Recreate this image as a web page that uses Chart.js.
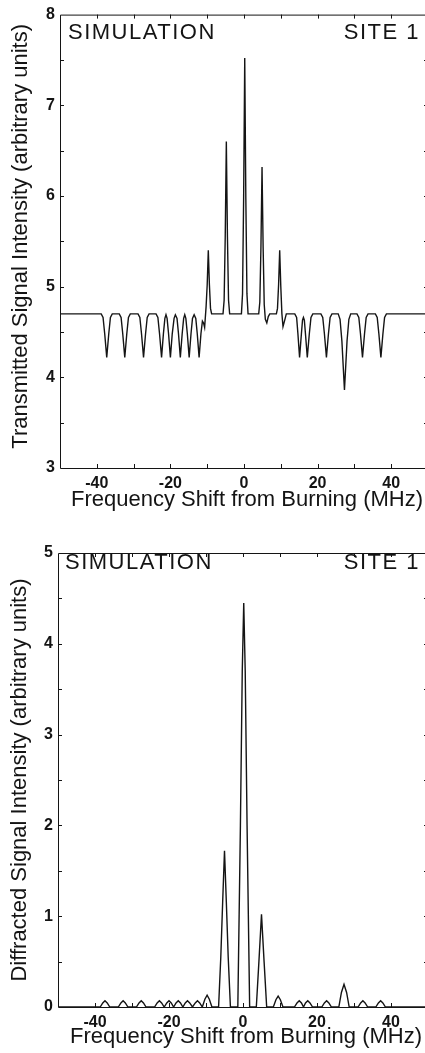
<!DOCTYPE html>
<html>
<head>
<meta charset="utf-8">
<title>Simulation - Site 1</title>
<script src="https://cdn.jsdelivr.net/npm/chart.js@4.4.0/dist/chart.umd.min.js"></script>
<style>
  html, body { margin: 0; padding: 0; background: #fff; overflow: hidden; }
  body { width: 425px; height: 1053px; position: relative; }
  canvas { position: absolute; left: 0; }
  #transChart { top: 0; }
  #diffChart { top: 530px; }
</style>
</head>
<body>
<canvas id="transChart" width="440" height="525"></canvas>
<canvas id="diffChart" width="440" height="523"></canvas>
<script>
// axis ticks
const xTickValues = [-40, -20, 0, 20, 40];
const xMarks = [-40, -30, -20, -10, 0, 10, 20, 30, 40];
const transYTicks = [3, 4, 5, 6, 7, 8];
const transYMarks = [3.5, 4, 4.5, 5, 5.5, 6, 6.5, 7, 7.5];
const diffYTicks = [0, 1, 2, 3, 4, 5];
const diffYMarks = [0.5, 1, 1.5, 2, 2.5, 3, 3.5, 4, 4.5];

// transmitted signal (MHz, arb. units)
const transFreq = [
  -50, -38.8, -38.3, -37.85, -37.3, -36.75, -36.3, -35.8,
  -33.9, -33.4, -32.95, -32.4, -31.85, -31.4, -30.9,
  -28.8, -28.3, -27.85, -27.3, -26.75, -26.3, -25.8,
  -23.9, -23.4, -22.95, -22.4, -21.9, -21.5, -21.2, -20.9, -20.5, -20.0,
  -19.5, -19.0, -18.65, -18.2, -17.8, -17.3, -16.8, -16.4, -16.1, -15.8,
  -15.4, -14.9, -14.4, -14.0, -13.55, -13.1, -12.7, -12.2, -11.7, -11.3,
  -11.0, -10.7, -10.3, -10.0, -9.7, -9.4, -9.1, -8.8,
  -5.7, -5.4, -5.1, -4.8, -4.5, -4.2, -3.9,
  -0.7, -0.4, -0.1, 0.2, 0.5, 0.8, 1.1,
  4.0, 4.3, 4.6, 4.9, 5.2, 5.5, 5.8, 6.2, 6.6, 7.0,
  8.8, 9.1, 9.4, 9.7, 10.0, 10.3, 10.6, 11.0, 11.5,
  13.8, 14.3, 14.65, 15.1, 15.6, 15.9, 16.15, 16.4, 16.7, 17.2, 17.75, 18.2, 18.7,
  20.9, 21.4, 21.85, 22.4, 22.95, 23.4, 23.9,
  25.6, 26.1, 26.6, 27.3, 28.0, 28.5, 29.0,
  30.7, 31.2, 31.65, 32.2, 32.75, 33.2, 33.7,
  35.7, 36.2, 36.65, 37.2, 37.75, 38.2, 38.7, 50
];
const transSignal = [
  4.70, 4.70, 4.66, 4.48, 4.22, 4.48, 4.66, 4.70,
  4.70, 4.66, 4.48, 4.22, 4.48, 4.66, 4.70,
  4.70, 4.66, 4.48, 4.22, 4.48, 4.66, 4.70,
  4.70, 4.66, 4.48, 4.22, 4.48, 4.65, 4.69, 4.65, 4.48, 4.22,
  4.48, 4.65, 4.69, 4.65, 4.48, 4.22, 4.48, 4.65, 4.69, 4.65,
  4.48, 4.22, 4.48, 4.65, 4.69, 4.65, 4.48, 4.22, 4.48, 4.62,
  4.60, 4.55, 4.78, 5.02, 5.40, 5.02, 4.76, 4.70,
  4.70, 4.85, 5.55, 6.60, 5.55, 4.85, 4.70,
  4.70, 4.92, 5.97, 7.52, 5.97, 4.92, 4.70,
  4.70, 4.83, 5.43, 6.32, 5.43, 4.80, 4.64, 4.60, 4.67, 4.70,
  4.70, 4.76, 5.02, 5.40, 5.00, 4.70, 4.56, 4.62, 4.70,
  4.70, 4.66, 4.48, 4.22, 4.48, 4.63, 4.66, 4.63, 4.48, 4.22, 4.48, 4.66, 4.70,
  4.70, 4.66, 4.48, 4.22, 4.48, 4.66, 4.70,
  4.70, 4.64, 4.40, 3.86, 4.40, 4.64, 4.70,
  4.70, 4.66, 4.48, 4.22, 4.48, 4.66, 4.70,
  4.70, 4.66, 4.48, 4.22, 4.48, 4.66, 4.70, 4.70
];

// diffracted signal
const diffFreq = [
  -50, -38.6, -37.9, -37.3, -36.7, -36.0,
  -33.7, -33.0, -32.4, -31.8, -31.1,
  -28.8, -28.1, -27.5, -26.9, -26.2,
  -23.9, -23.2, -22.6, -22.0, -21.3, -20.6, -20.0, -19.4, -18.75,
  -18.1, -17.5, -16.9, -16.25, -15.6, -15.0, -14.4, -13.65,
  -12.9, -12.3, -11.7, -11.0, -10.3, -9.7, -9.1, -8.4,
  -6.6, -6.0, -5.5, -5.0, -4.5, -4.0, -3.4,
  -1.4, -0.7, -0.2, 0.2, 0.6, 1.1, 1.8,
  3.6, 4.3, 5.0, 5.7, 6.4,
  8.2, 8.9, 9.5, 10.1, 10.8,
  13.9, 14.6, 15.2, 15.8, 16.35, 16.9, 17.5, 18.1, 18.8,
  21.3, 22.0, 22.6, 23.2, 23.9,
  25.9, 26.6, 27.3, 28.0, 28.7,
  31.1, 31.8, 32.4, 33.0, 33.7,
  35.9, 36.6, 37.2, 37.8, 38.5, 50
];
const diffSignal = [
  0, 0, 0.045, 0.07, 0.045, 0,
  0, 0.045, 0.07, 0.045, 0,
  0, 0.045, 0.07, 0.045, 0,
  0, 0.045, 0.07, 0.045, 0, 0.045, 0.07, 0.045, 0,
  0.045, 0.07, 0.045, 0, 0.045, 0.07, 0.045, 0,
  0.045, 0.07, 0.045, 0, 0.085, 0.13, 0.085, 0,
  0, 0.55, 1.15, 1.72, 1.15, 0.55, 0,
  0, 2.0, 3.7, 4.45, 3.7, 2.0, 0,
  0, 0.5, 1.02, 0.5, 0,
  0, 0.08, 0.12, 0.08, 0,
  0, 0.045, 0.07, 0.045, 0, 0.045, 0.07, 0.045, 0,
  0, 0.045, 0.07, 0.045, 0,
  0, 0.16, 0.25, 0.16, 0,
  0, 0.045, 0.07, 0.045, 0,
  0, 0.045, 0.07, 0.045, 0, 0
];

const FONT = '"Liberation Sans", Arial, Helvetica, sans-serif';
const INK = '#141414';

// frame with inward ticks, axis titles and the panel captions
const framePlugin = {
  id: 'framePlugin',
  afterDraw(chart, args, o) {
    const ctx = chart.ctx;
    const a = chart.chartArea;
    const xs = chart.scales.x;
    const ys = chart.scales.y;
    ctx.save();
    ctx.strokeStyle = INK;
    ctx.lineWidth = 1;
    ctx.beginPath();
    ctx.rect(a.left + 0.5, a.top + 0.5, a.right - a.left, a.bottom - a.top);
    o.xMarks.forEach(v => {
      const px = Math.round(xs.getPixelForValue(v)) + 0.5;
      ctx.moveTo(px, a.bottom); ctx.lineTo(px, a.bottom - 4);
      ctx.moveTo(px, a.top); ctx.lineTo(px, a.top + 4);
    });
    o.yMarks.forEach(v => {
      const py = Math.round(ys.getPixelForValue(v)) + 0.5;
      ctx.moveTo(a.left, py); ctx.lineTo(a.left + 4, py);
      ctx.moveTo(a.right, py); ctx.lineTo(a.right - 4, py);
    });
    ctx.stroke();

    ctx.fillStyle = INK;
    ctx.font = '22px ' + FONT;
    ctx.textAlign = 'center';
    ctx.textBaseline = 'alphabetic';
    ctx.fillText(o.xTitle, (a.left + a.right) / 2 + 3, a.bottom + o.xTitleGap);

    ctx.save();
    ctx.translate(o.yTitleX, (a.top + a.bottom) / 2 + o.yTitleShift);
    ctx.rotate(-Math.PI / 2);
    ctx.textBaseline = 'middle';
    ctx.fillText(o.yTitle, 0, 0);
    ctx.restore();

    ctx.font = '22px ' + FONT;
    if ('letterSpacing' in ctx) ctx.letterSpacing = '1.5px';
    ctx.textAlign = 'left';
    ctx.fillText(o.caption, a.left + o.captionInset, a.top + o.captionDrop);
    ctx.textAlign = 'right';
    ctx.fillText(o.site, 420, a.top + o.captionDrop);
    ctx.restore();
  }
};

function makeChart(id, freq, signal, cfg) {
  const points = freq.map((f, i) => ({ x: f, y: signal[i] }));
  const tickFont = { family: FONT, size: 16, weight: 'bold' };
  return new Chart(document.getElementById(id), {
    type: 'line',
    data: {
      datasets: [{
        data: points,
        borderColor: INK,
        borderWidth: 1.4,
        pointRadius: 0,
        tension: 0,
        fill: false
      }]
    },
    options: {
      responsive: false,
      animation: false,
      layout: { padding: { top: cfg.top, right: 12, left: 0, bottom: 0 } },
      plugins: {
        legend: { display: false },
        tooltip: { enabled: false },
        framePlugin: cfg.frame
      },
      scales: {
        x: {
          type: 'linear',
          min: -50,
          max: 50,
          grid: { display: false, drawTicks: false },
          border: { display: false },
          ticks: { color: INK, font: tickFont, padding: 6, maxRotation: 0, autoSkip: false, callback: v => String(v) },
          afterBuildTicks: s => { s.ticks = xTickValues.map(v => ({ value: v })); },
          afterFit: s => { s.height = cfg.xHeight; }
        },
        y: {
          min: cfg.yTicks[0],
          max: cfg.yTicks[cfg.yTicks.length - 1],
          grid: { display: false, drawTicks: false },
          border: { display: false },
          ticks: { color: INK, font: tickFont, padding: 5, callback: v => String(v) },
          afterBuildTicks: s => { s.ticks = cfg.yTicks.map(v => ({ value: v })); },
          afterFit: s => { s.width = cfg.yWidth; }
        }
      }
    },
    plugins: [framePlugin]
  });
}

document.addEventListener('DOMContentLoaded', function () {
  makeChart('transChart', transFreq, transSignal, {
    top: 13, xHeight: 57, yWidth: 60, yTicks: transYTicks,
    frame: {
      xMarks: xMarks, yMarks: transYMarks,
      xTitle: 'Frequency Shift from Burning (MHz)',
      yTitle: 'Transmitted Signal Intensity (arbitrary units)',
      xTitleGap: 38, yTitleX: 21, yTitleShift: -5,
      caption: 'SIMULATION', site: 'SITE 1', captionInset: 8, captionDrop: 24
    }
  });

  makeChart('diffChart', diffFreq, diffSignal, {
    top: 23, xHeight: 46, yWidth: 58, yTicks: diffYTicks,
    frame: {
      xMarks: xMarks, yMarks: diffYMarks,
      xTitle: 'Frequency Shift from Burning (MHz)',
      yTitle: 'Diffracted Signal Intensity (arbitrary units)',
      xTitleGap: 36, yTitleX: 20, yTitleShift: 0,
      caption: 'SIMULATION', site: 'SITE 1', captionInset: 7, captionDrop: 16
    }
  });
});
</script>
</body>
</html>
